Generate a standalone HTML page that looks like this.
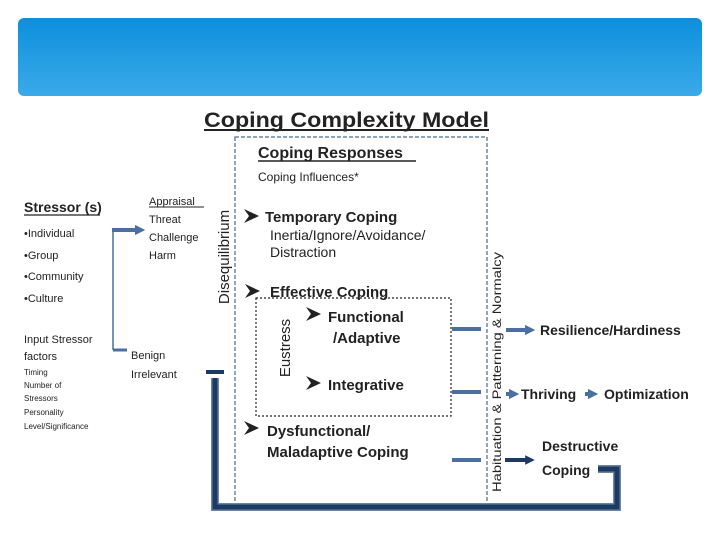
<!DOCTYPE html>
<html><head><meta charset="utf-8"><style>
html,body{margin:0;padding:0;background:#fff;}
svg{display:block;font-family:"Liberation Sans",sans-serif;}
</style></head><body>
<svg width="720" height="540" viewBox="0 0 720 540" xmlns="http://www.w3.org/2000/svg">
<defs>
<linearGradient id="bg" x1="0" y1="0" x2="0" y2="1">
<stop offset="0" stop-color="#0d8fdc"/><stop offset="1" stop-color="#3aaae8"/>
</linearGradient>
<marker id="ah" markerWidth="2.6" markerHeight="2.6" refX="1.3" refY="1.3" orient="auto" markerUnits="strokeWidth">
<path d="M0,0 L2.6,1.3 L0,2.6 z" fill="#4a6fa0"/></marker>
<marker id="ahd" markerWidth="2.4" markerHeight="2.4" refX="1.2" refY="1.2" orient="auto" markerUnits="strokeWidth">
<path d="M0,0 L2.4,1.2 L0,2.4 z" fill="#1e3a63"/></marker>
<path id="bul" d="M0,-7 L15,0 L0,7 L5,0 z" fill="#222"/>
</defs>
<rect x="18" y="18" width="684" height="78" rx="6" fill="url(#bg)"/>

<text x="204" y="127" font-size="21" font-weight="bold" fill="#222" textLength="285" lengthAdjust="spacingAndGlyphs">Coping Complexity Model</text>
<line x1="204" y1="130" x2="489" y2="130" stroke="#222" stroke-width="2"/>

<rect x="235" y="137" width="252" height="368" fill="none" stroke="#6b86a8" stroke-width="1.5" stroke-dasharray="4,2"/>

<text x="258" y="158" font-size="16" font-weight="bold" fill="#222">Coping Responses</text>
<line x1="258" y1="161" x2="416" y2="161" stroke="#222" stroke-width="1.5"/>
<text x="258" y="181" font-size="12" fill="#222">Coping Influences*</text>

<use href="#bul" x="244" y="216"/>
<use href="#bul" x="245" y="291"/>
<use href="#bul" x="306" y="314"/>
<use href="#bul" x="306" y="383"/>
<use href="#bul" x="244" y="428"/>
<g font-size="15" fill="#222">
<text x="265" y="222" font-weight="bold">Temporary Coping</text>
<text x="270" y="240" font-size="14">Inertia/Ignore/Avoidance/</text>
<text x="270" y="257" font-size="14">Distraction</text>
<text x="270" y="297" font-weight="bold">Effective Coping</text>
<text x="328" y="322" font-weight="bold">Functional</text>
<text x="333" y="343" font-weight="bold">/Adaptive</text>
<text x="328" y="390" font-weight="bold">Integrative</text>
<text x="267" y="436" font-weight="bold">Dysfunctional/</text>
<text x="267" y="457" font-weight="bold">Maladaptive Coping</text>
</g>
<rect x="256" y="298" width="195" height="118" fill="none" stroke="#222" stroke-width="1.2" stroke-dasharray="2,2"/>
<text transform="translate(290,348) rotate(-90)" text-anchor="middle" font-size="15" fill="#222">Eustress</text>
<text transform="translate(229,257) rotate(-90)" text-anchor="middle" font-size="15" fill="#222">Disequilibrium</text>
<text transform="translate(501,372) rotate(-90)" text-anchor="middle" font-size="12" fill="#222" textLength="240" lengthAdjust="spacingAndGlyphs">Habituation &amp; Patterning &amp; Normalcy</text>

<g stroke="#4a6fa0" stroke-width="4">
<line x1="452" y1="329" x2="481" y2="329"/>
<line x1="452" y1="392" x2="481" y2="392"/>
<line x1="452" y1="460" x2="481" y2="460"/>
<line x1="506" y1="330" x2="530" y2="330" marker-end="url(#ah)"/>
<line x1="506" y1="394" x2="514" y2="394" marker-end="url(#ah)"/>
<line x1="585" y1="394" x2="593" y2="394" marker-end="url(#ah)"/>
</g>
<line x1="505" y1="460" x2="530" y2="460" stroke="#1e3a63" stroke-width="4" marker-end="url(#ahd)"/>

<g font-size="14" font-weight="bold" fill="#222">
<text x="540" y="335">Resilience/Hardiness</text>
<text x="521" y="399">Thriving</text>
<text x="604" y="399">Optimization</text>
<text x="542" y="451">Destructive</text>
<text x="542" y="475">Coping</text>
</g>

<path d="M598,469 L617,469 L617,507 L215,507 L215,378" fill="none" stroke="#6b86a8" stroke-width="8"/>
<path d="M598,469 L617,469 L617,507 L215,507 L215,378" fill="none" stroke="#1e3a63" stroke-width="5"/>
<rect x="206" y="370" width="18" height="4" fill="#1e3a63"/>

<text x="24" y="212" font-size="14" font-weight="bold" fill="#222">Stressor (s)</text>
<line x1="24" y1="215" x2="100" y2="215" stroke="#222" stroke-width="1.2"/>
<g font-size="11" fill="#222">
<text x="24" y="237">•Individual</text>
<text x="24" y="259">•Group</text>
<text x="24" y="280">•Community</text>
<text x="24" y="302">•Culture</text>
<text x="24" y="343">Input Stressor</text>
<text x="24" y="360">factors</text>
<text x="131" y="359">Benign</text>
<text x="131" y="378">Irrelevant</text>
<text x="149" y="205">Appraisal</text>
<text x="149" y="223">Threat</text>
<text x="149" y="241">Challenge</text>
<text x="149" y="259">Harm</text>
</g>
<line x1="149" y1="207" x2="204" y2="207" stroke="#222" stroke-width="1"/>
<g font-size="8" fill="#222">
<text x="24" y="375">Timing</text>
<text x="24" y="388">Number of</text>
<text x="24" y="401">Stressors</text>
<text x="24" y="415">Personality</text>
<text x="24" y="429">Level/Significance</text>
</g>
<line x1="113" y1="230" x2="113" y2="350" stroke="#4a6fa0" stroke-width="1.5"/>
<line x1="112" y1="230" x2="140" y2="230" stroke="#4a6fa0" stroke-width="4" marker-end="url(#ah)"/>
<line x1="113" y1="350" x2="127" y2="350" stroke="#4a6fa0" stroke-width="3"/>
</svg>
</body></html>
